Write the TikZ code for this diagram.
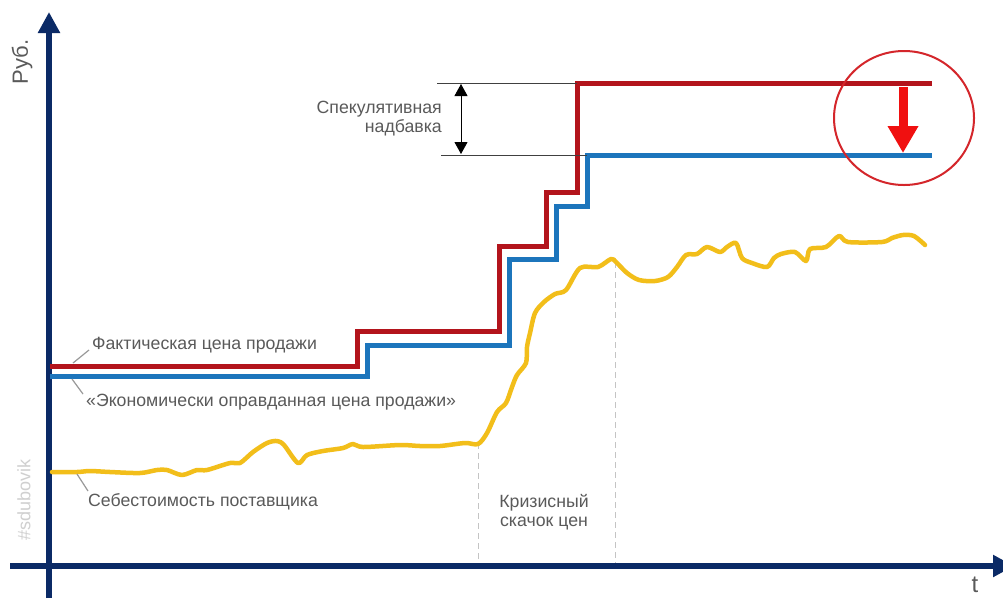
\documentclass[tikz,border=0pt]{standalone}
\usepackage{fontspec}
\setmainfont{Liberation Sans}
\usetikzlibrary{arrows.meta}
\definecolor{navy}{HTML}{0B2A66}
\definecolor{fred}{HTML}{B3141C}
\definecolor{eblue}{HTML}{1C75BC}
\definecolor{cost}{HTML}{F2BE1A}
\definecolor{txt}{HTML}{5A5A5A}
\definecolor{circ}{HTML}{D4262B}
\definecolor{arr}{HTML}{F01010}
\definecolor{wm}{HTML}{D0D0D0}
\definecolor{guidec}{HTML}{C4C4C4}
\tikzset{
  lab/.style={font=\fontsize{17.7}{19}\selectfont, text=txt, inner sep=0pt},
  axisline/.style={navy, line width=6pt},
  priceline/.style={line width=5pt, line join=miter},
  leader/.style={draw=gray!80, line width=1.2pt},
  guide/.style={draw=guidec, line width=1pt, dash pattern=on 6pt off 4pt},
  dimline/.style={draw=black!75, line width=0.8pt},
}
\begin{document}
\begin{tikzpicture}[x=1pt,y=-1pt]
\useasboundingbox (0,0) rectangle (1003,598);
\clip (0,0) rectangle (1003,598);
\fill[white] (0,0) rectangle (1003,598);

% guides
\coordinate (g1t) at (478,443); \coordinate (g1b) at (478,565);
\coordinate (g2t) at (615,262); \coordinate (g2b) at (615,565);
\draw[guide] (g1t) -- (g1b);
\draw[guide] (g2t) -- (g2b);

% axes
\coordinate (yb) at (49,598); \coordinate (yt) at (49,12);
\coordinate (xl) at (10,566); \coordinate (xr) at (1014,566);
\draw[axisline, -{Triangle[length=21pt,width=21pt]}] (yb) -- (yt);
\draw[axisline, -{Triangle[length=21pt,width=21pt]}] (xl) -- (xr);

% cost curve
\draw[cost, line width=4.5pt, line cap=round, line join=round]
  plot[smooth, tension=0.5] coordinates {
  (52,472) (77,472) (90,471) (110,472) (140,473) (157,470) (167,470) (182,475)
  (197,470) (207,470) (230,463) (240,463) (253,452) (267,443) (277,441) (284,445)
  (298,463) (307,455) (323,451) (343,448) (353,444) (363,447) (400,445) (420,446)
  (440,446) (465,443) (478,444) (487,433) (497,412) (506,403) (512,387) (517,375)
  (526,363) (527,347) (530,333) (535,313) (544,302) (555,294) (566,290) (580,268)
  (598,267) (611,259) (616,262) (627,273) (639,280) (655,281) (668,277) (677,267)
  (686,255) (697,254) (707,247) (720,252) (727,247) (736,243) (742,258) (752,263)
  (767,267) (774,258) (781,254) (795,252) (806,261) (810,249) (826,247) (839,236)
  (848,242) (882,242) (892,238) (903,235) (914,236) (925,245)};

% economically justified price (blue)
\draw[eblue, priceline] (50,376) -- (367,376) -- (367,345) -- (509,345) -- (509,259)
  -- (556,259) -- (556,206) -- (587,206) -- (587,155) -- (932,155);
% actual price (red)
\draw[fred, priceline] (50,366) -- (357,366) -- (357,331) -- (499,331) -- (499,246)
  -- (546,246) -- (546,192) -- (577,192) -- (577,83) -- (932,83);

% dimension
\coordinate (d1a) at (437,83); \coordinate (d1b) at (577,83);
\coordinate (d2a) at (441,155); \coordinate (d2b) at (587,155);
\draw[dimline] (d1a) -- (d1b);
\draw[dimline] (d2a) -- (d2b);
\coordinate (da) at (461,84); \coordinate (db) at (461,154);
\draw[black, line width=0.9pt, {Triangle[length=12pt,width=13pt]}-{Triangle[length=12pt,width=13pt]}] (da) -- (db);
\node[lab, align=right, anchor=east] (spec) at (442,119) {Спекулятивная\\надбавка};

% circle and arrow
\draw[circ, line width=2pt] (904,118) ellipse [x radius=70, y radius=67];
\coordinate (at) at (903,87); \coordinate (ab) at (903,153);
\draw[arr, line width=9pt, -{Triangle[length=27pt,width=29pt]}] (at) -- (ab);

% labels
\node[lab, anchor=west] (fact) at (92,345) {Фактическая цена продажи};
\coordinate (fl1) at (73,363); \coordinate (fl2) at (89,350);
\draw[leader] (fl1) -- (fl2);
\node[lab, anchor=west] (econ) at (86,402) {«Экономически оправданная цена продажи»};
\coordinate (el1) at (72,379); \coordinate (el2) at (83,394);
\draw[leader] (el1) -- (el2);
\node[lab, anchor=west] (sebe) at (88,502) {Себестоимость поставщика};
\coordinate (sl1) at (77,474); \coordinate (sl2) at (88,491);
\draw[leader] (sl1) -- (sl2);
\node[lab, align=center] (crisis) at (544,512) {Кризисный\\скачок цен};

\node[lab, font=\fontsize{22}{24}\selectfont, rotate=90] (rub) at (22,62) {Руб.};
\node[lab, font=\fontsize{24}{26}\selectfont] (t) at (975,585) {t};
\node[lab, font=\fontsize{18}{20}\selectfont, text=wm, rotate=90] (wmk) at (24,500) {\#sdubovik};
\end{tikzpicture}
\end{document}
